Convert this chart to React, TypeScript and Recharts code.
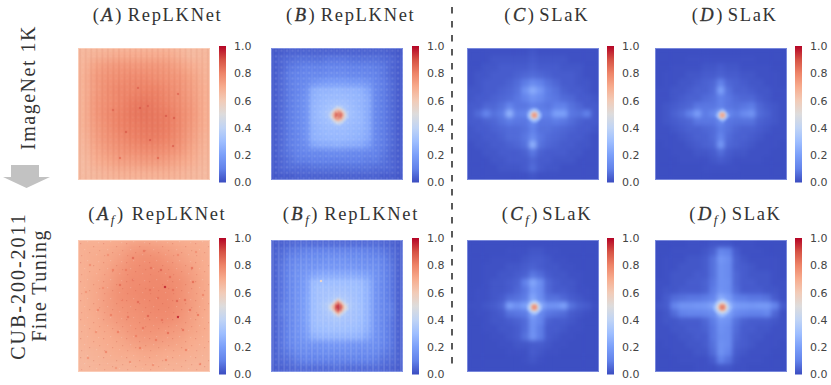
import * as React from "react";
import { Bar, BarChart, Scatter, ScatterChart, XAxis, YAxis } from "recharts";

// values are percent of the colorbar range, rows read top to bottom
const gridA = [
  [66,67,68,69,69,69,69,69,67,65,66],
  [67,72,74,75,75,75,75,74,72,69,67],
  [68,74,76,77,78,78,77,76,75,72,68],
  [68,74,77,79,79,80,80,78,76,73,69],
  [68,75,77,79,81,82,81,79,77,74,69],
  [68,75,78,80,82,83,82,81,78,75,69],
  [68,74,77,80,81,82,82,81,78,74,69],
  [67,73,76,78,80,81,81,80,77,73,68],
  [66,71,74,76,77,78,78,77,75,71,67],
  [65,69,71,73,73,74,74,73,71,69,66],
  [65,66,67,68,68,68,68,68,67,66,65],
];
const gridAf = [
  [69,69,70,71,73,74,73,72,71,70,69],
  [69,70,71,73,76,77,77,75,73,71,70],
  [69,70,72,75,77,78,78,77,75,73,70],
  [69,71,73,76,78,78,79,78,77,74,71],
  [69,71,74,77,78,79,79,79,77,74,71],
  [69,71,74,76,77,78,79,79,77,74,71],
  [69,70,73,75,76,77,78,78,76,73,70],
  [68,70,71,73,75,76,76,75,74,72,70],
  [68,69,70,71,73,74,74,73,72,70,69],
  [67,68,69,70,70,71,71,70,70,69,68],
  [66,67,68,68,68,69,69,68,68,67,67],
];
const gridB = [
  [2,3,4,4,4,4,4,4,4,4,4,4,4,4,4,3,2],
  [3,5,6,7,7,7,7,8,8,8,7,7,7,7,6,5,3],
  [3,5,8,9,10,10,10,11,11,11,10,10,10,9,8,5,3],
  [3,6,9,10,11,12,12,13,13,13,12,12,11,10,8,5,3],
  [3,6,9,11,12,16,18,19,19,19,18,18,16,11,9,6,3],
  [3,6,9,11,14,25,27,27,28,27,27,26,22,12,9,6,3],
  [3,6,9,12,15,26,28,29,29,29,28,27,24,12,9,6,3],
  [3,6,9,12,15,27,29,31,33,32,29,27,24,12,9,6,3],
  [3,6,9,12,15,27,30,34,38,35,30,28,24,12,9,6,3],
  [3,6,9,12,15,27,29,31,34,31,29,28,24,12,9,6,3],
  [3,6,9,12,15,26,28,29,29,29,28,27,24,12,9,6,3],
  [3,6,9,11,15,26,27,28,28,28,27,26,23,12,9,6,3],
  [3,6,9,11,13,22,24,24,25,24,24,23,19,11,9,6,3],
  [3,6,8,10,11,12,12,13,13,13,12,12,11,10,8,5,3],
  [3,5,7,9,9,10,10,10,10,10,10,10,9,9,7,5,3],
  [3,5,6,6,6,7,7,7,7,7,7,7,7,6,6,5,3],
  [2,3,3,4,4,4,4,4,4,4,4,4,4,4,3,3,2],
];
const gridBf = [
  [3,4,5,6,6,6,6,6,6,6,6,6,6,6,5,4,3],
  [4,6,8,9,10,11,11,11,11,11,11,11,10,9,8,6,4],
  [4,7,10,12,13,14,14,15,15,15,14,14,13,12,10,7,4],
  [4,8,11,14,15,16,17,17,17,17,17,16,15,14,11,8,4],
  [4,8,12,15,17,21,23,23,23,23,23,22,20,15,12,8,4],
  [4,8,12,15,19,29,30,30,30,30,30,29,25,16,12,8,4],
  [4,8,12,16,19,30,32,32,32,32,31,30,26,16,12,8,4],
  [4,8,12,16,20,30,32,33,35,34,32,30,26,16,12,8,4],
  [4,9,12,16,20,30,33,37,42,39,33,31,26,16,12,9,4],
  [4,9,12,16,20,30,32,34,37,34,32,31,26,16,12,9,4],
  [4,8,12,16,20,30,32,32,33,32,32,30,26,16,12,8,4],
  [4,8,12,16,19,29,30,31,31,31,30,29,25,16,12,8,4],
  [4,8,12,15,18,25,27,27,27,27,27,26,22,15,12,8,4],
  [4,8,11,14,15,16,16,17,17,17,16,16,15,14,11,8,4],
  [4,7,9,12,13,13,14,14,14,14,14,13,13,12,9,7,4],
  [4,6,7,9,10,10,10,10,10,10,10,10,10,9,7,6,4],
  [3,4,5,6,6,6,6,6,7,6,6,6,6,6,5,4,3],
];
const gridC = [
  [1,1,1,1,1,1,1,1,2,1,1,1,1,1,1,1,1],
  [1,1,1,2,2,2,2,2,3,2,2,2,2,1,1,1,1],
  [1,1,2,2,3,3,3,3,4,3,3,3,2,2,2,1,1],
  [1,2,2,3,3,3,4,5,6,5,4,3,3,3,2,1,1],
  [1,2,3,3,3,4,6,9,13,10,7,5,3,3,2,2,1],
  [2,2,3,3,4,5,7,15,24,17,9,7,4,3,3,2,1],
  [2,3,3,4,5,6,8,11,16,13,9,8,6,5,3,3,2],
  [3,3,5,5,7,11,8,8,10,9,8,10,10,7,5,3,3],
  [3,6,11,7,9,26,10,11,28,11,10,20,20,8,7,10,3],
  [3,3,4,5,7,9,8,8,13,8,8,9,8,6,4,3,3],
  [2,3,3,4,5,6,6,7,10,7,7,6,5,4,3,3,2],
  [2,2,3,3,4,6,6,8,13,8,6,5,4,3,3,2,1],
  [1,2,2,3,3,4,5,7,25,7,5,4,3,3,2,2,1],
  [1,1,2,2,3,3,3,4,8,4,3,3,3,2,2,1,1],
  [1,1,1,2,2,3,3,3,5,3,3,2,2,2,1,1,1],
  [1,1,1,1,2,2,2,3,6,3,2,2,1,1,1,1,1],
  [1,1,1,1,1,1,1,1,2,1,1,1,1,1,1,1,1],
];
const gridD = [
  [0.5,0.5,0.5,0.5,0.5,0.5,0.5,0.5,0.5,0.5,0.5,0.5,0.5,0.5,0.5,0.5,0.5],
  [0.5,0.5,0.5,0.5,1,1,1,1,1,1,1,1,1,0.5,0.5,0.5,0.5],
  [0.5,0.5,1,1,1,1,2,2,3,2,2,1,1,1,1,0.5,0.5],
  [0.5,1,1,1,2,2,3,3,4,3,3,2,2,1,1,1,0.5],
  [0.5,1,1,2,2,3,4,5,10,5,4,3,2,2,1,1,0.5],
  [1,1,2,2,3,4,4,6,20,7,4,4,3,2,2,1,1],
  [1,1,2,3,4,4,6,7,10,8,6,5,5,3,2,1,1],
  [1,2,3,4,5,8,8,8,10,8,7,8,9,5,3,2,1],
  [1,2,4,6,10,19,9,12,24,12,9,13,16,6,4,2,1],
  [1,2,3,4,5,8,8,8,12,8,7,7,7,4,3,2,1],
  [1,1,2,3,4,4,5,6,9,7,5,4,4,3,2,1,1],
  [1,1,1,2,3,4,4,6,11,6,4,4,3,2,1,1,1],
  [0.5,1,1,1,2,3,4,5,17,5,4,3,2,1,1,1,0.5],
  [0.5,0.5,1,1,1,2,2,3,6,3,2,2,1,1,1,0.5,0.5],
  [0.5,0.5,0.5,1,1,1,1,2,3,2,1,1,1,1,0.5,0.5,0.5],
  [0.5,0.5,0.5,0.5,0.5,0.5,1,1,1,1,1,0.5,0.5,0.5,0.5,0.5,0.5],
  [0.5,0.5,0.5,0.5,0.5,0.5,0.5,0.5,0.5,0.5,0.5,0.5,0.5,0.5,0.5,0.5,0.5],
];
const gridCf = [
  [0.5,0.5,0.5,0.5,0.5,0.5,0.5,0.5,0.5,0.5,0.5,0.5,0.5,0.5,0.5,0.5,0.5],
  [0.5,0.5,0.5,0.5,0.5,1,1,1,2,2,1,1,0.5,0.5,0.5,0.5,0.5],
  [0.5,0.5,0.5,1,1,1,1,2,3,3,2,1,1,0.5,0.5,0.5,0.5],
  [0.5,0.5,1,1,1,2,2,3,4,3,2,2,1,1,0.5,0.5,0.5],
  [0.5,0.5,1,1,2,2,3,4,8,6,3,2,2,1,1,0.5,0.5],
  [0.5,0.5,1,2,2,3,4,10,22,14,5,3,2,2,1,0.5,0.5],
  [0.5,1,1,2,2,3,5,8,18,13,5,3,3,2,1,1,0.5],
  [0.5,1,1,2,3,6,7,9,22,14,7,7,5,3,2,1,0.5],
  [1,1,2,3,5,20,15,20,32,24,16,16,20,7,4,3,1],
  [0.5,1,1,2,3,7,8,9,22,13,8,7,6,3,2,1,0.5],
  [0.5,0.5,1,2,2,3,4,6,16,11,4,3,3,2,1,0.5,0.5],
  [0.5,0.5,1,1,2,2,3,6,15,9,3,3,2,1,1,0.5,0.5],
  [0.5,0.5,0.5,1,1,2,3,7,16,9,3,2,1,1,0.5,0.5,0.5],
  [0.5,0.5,0.5,0.5,1,1,2,2,3,3,2,1,1,0.5,0.5,0.5,0.5],
  [0.5,0.5,0.5,0.5,0.5,1,1,1,3,2,1,1,0.5,0.5,0.5,0.5,0.5],
  [0.5,0.5,0.5,0.5,0.5,0.5,0.5,1,2,1,0.5,0.5,0.5,0.5,0.5,0.5,0.5],
  [0.5,0.5,0.5,0.5,0.5,0.5,0.5,0.5,0.5,0.5,0.5,0.5,0.5,0.5,0.5,0.5,0.5],
];
const gridDf = [
  [0.5,0.5,0.5,0.5,1,1,1,2,2,2,1,1,1,0.5,0.5,0.5,0.5],
  [0.5,0.5,1,1,1,1,2,4,12,10,3,1,1,1,0.5,0.5,0.5],
  [0.5,1,1,1,2,2,3,7,17,14,4,2,1,1,1,1,0.5],
  [0.5,1,1,2,2,2,3,7,15,13,4,3,2,1,1,1,0.5],
  [0.5,1,2,2,2,3,3,7,15,13,5,3,2,2,2,1,0.5],
  [1,1,2,2,3,3,4,8,15,14,5,3,3,2,2,1,1],
  [1,2,2,3,3,3,4,9,16,14,6,3,3,3,2,2,1],
  [1,3,6,7,8,8,9,11,24,19,10,9,8,8,7,3,1],
  [2,3,11,16,16,17,18,22,34,27,19,18,17,18,18,11,3],
  [1,2,6,10,11,11,12,14,26,21,13,11,10,10,12,5,1],
  [1,2,2,3,3,3,5,9,17,15,7,4,3,3,3,2,1],
  [1,1,2,2,3,3,4,8,15,13,6,3,3,2,2,1,1],
  [1,1,1,2,2,3,3,8,14,13,5,3,2,2,1,1,1],
  [0.5,1,1,1,2,2,3,7,15,13,4,3,2,1,1,1,0.5],
  [0.5,0.5,1,1,1,2,2,6,15,11,3,2,1,1,1,0.5,0.5],
  [0.5,0.5,0.5,1,1,1,1,3,10,7,2,1,1,1,0.5,0.5,0.5],
  [0.5,0.5,0.5,0.5,0.5,1,1,1,2,2,1,1,0.5,0.5,0.5,0.5,0.5],
];

// hot centre of each map on a finer grid, 0 = nothing drawn
const peakB = [
  [0,0,0,40,44,40,0,0,0],
  [0,0,46,54,58,54,46,0,0],
  [0,46,58,72,74,72,58,46,0],
  [40,54,74,90,76,90,74,54,40],
  [44,58,76,92,78,92,76,58,44],
  [40,54,74,88,76,88,74,54,40],
  [0,46,58,72,74,72,58,46,0],
  [0,0,46,54,58,54,46,0,0],
  [0,0,0,40,44,40,0,0,0],
];
const peakBf = [
  [0,0,0,38,55,38,0,0,0],
  [0,0,44,56,72,56,44,0,0],
  [0,42,58,78,88,78,58,42,0],
  [46,56,74,92,96,92,74,56,46],
  [50,60,78,94,96,94,78,60,50],
  [46,56,74,92,96,92,74,56,46],
  [0,42,58,78,88,78,58,42,0],
  [0,0,44,56,72,56,44,0,0],
  [0,0,0,38,55,38,0,0,0],
];
const peakC = [
  [0,0,0,0,0,0,0,0,0],
  [0,0,0,24,28,24,0,0,0],
  [0,0,30,38,44,38,30,0,0],
  [0,24,38,64,72,64,38,24,0],
  [0,28,44,72,78,72,44,28,0],
  [0,24,38,64,72,64,38,24,0],
  [0,0,30,38,44,38,30,0,0],
  [0,0,0,24,28,24,0,0,0],
  [0,0,0,0,0,0,0,0,0],
];
const peakD = [
  [0,0,0,0,0,0,0,0,0],
  [0,0,0,0,22,0,0,0,0],
  [0,0,0,32,38,32,0,0,0],
  [0,0,32,60,68,60,32,0,0],
  [0,22,38,68,74,68,38,22,0],
  [0,0,32,60,68,60,32,0,0],
  [0,0,0,32,38,32,0,0,0],
  [0,0,0,0,22,0,0,0,0],
  [0,0,0,0,0,0,0,0,0],
];
const peakCf = [
  [0,0,0,0,0,0,0,0,0],
  [0,0,0,30,34,30,0,0,0],
  [0,0,36,44,50,44,36,0,0],
  [0,30,44,68,76,68,44,30,0],
  [0,34,50,76,80,76,50,34,0],
  [0,30,44,68,76,68,44,30,0],
  [0,0,36,44,50,44,36,0,0],
  [0,0,0,30,34,30,0,0,0],
  [0,0,0,0,0,0,0,0,0],
];
const peakDf = [
  [0,0,0,26,30,26,0,0,0],
  [0,0,32,38,42,38,32,0,0],
  [0,32,42,52,58,52,42,32,0],
  [26,38,52,74,80,74,52,38,26],
  [30,42,58,80,84,80,58,42,30],
  [26,38,52,74,80,74,52,38,26],
  [0,32,42,52,58,52,42,32,0],
  [0,0,32,38,42,38,32,0,0],
  [0,0,0,26,30,26,0,0,0],
];

// darker single spots: x, y inside the 132 wide map, value
const spotsA = [[62,60,87],[88,68,87],[96,70,86],[48,84,86],[72,92,87],[95,98,85],[35,62,84],[60,40,85],[100,46,84],[80,110,83],[42,110,82],[70,58,86]];
const spotsAf = [[87,47,94],[100,77,94],[55,18,84],[83,30,85],[99,61,85],[70,76,85],[42,45,83],[115,42,83],[60,62,84],[107,60,83],[73,28,83],[92,37,83],[66,11,82],[114,28,82],[50,77,82],[35,30,80],[120,75,81],[90,93,83],[40,92,80],[78,100,81],[62,108,80],[20,70,78],[28,112,78],[108,110,79],[122,124,79],[48,30,81],[72,50,83],[105,90,82],[12,25,76],[25,48,77],[18,92,76],[10,118,75],[33,75,80],[44,60,81],[55,40,82],[65,88,82],[80,58,83],[95,50,83],[112,70,82],[125,55,78],[30,15,76],[100,15,78],[118,12,76],[88,120,78],[52,122,76],[75,125,76],[38,128,74],[8,52,75],[58,96,80],[84,80,83]];
const spotsBf = [[50,41,55]];

const colorbarTicks = [0, 0.2, 0.4, 0.6, 0.8, 1];
const coolwarm = ["#3b4cc0", "#6282ea", "#7b9ff9", "#9ebeff", "#c0d4f5", "#dddcdc", "#f2cbb7", "#f7ac8e", "#ee8468", "#d65244", "#b40426"];

const SIZE = 132;
const PEAK_CELL = 2;
const PEAK_CENTRE = 67.5;

function toRgb(hex: string) {
  return [1, 3, 5].map((i) => parseInt(hex.slice(i, i + 2), 16));
}

function colorOf(pct: number) {
  const p = Math.min(99.99, Math.max(0, pct)) / 10;
  const i = Math.floor(p);
  const a = toRgb(coolwarm[i]);
  const b = toRgb(coolwarm[i + 1]);
  const c = a.map((v, k) => Math.round(v + (b[k] - v) * (p - i)));
  return `rgb(${c[0]},${c[1]},${c[2]})`;
}

function gridCells(grid: number[][]) {
  const w = SIZE / grid.length;
  return grid.flatMap((row, r) => row.map((v, c) => ({ x: (c + 0.5) * w, y: (r + 0.5) * w, v, w: w + 0.6 })));
}

function peakCells(peak: number[][]) {
  const n = peak.length;
  return peak.flatMap((row, r) =>
    row.flatMap((v, c) =>
      v === 0
        ? []
        : [{ x: PEAK_CENTRE + (c - (n - 1) / 2) * PEAK_CELL, y: PEAK_CENTRE + (r - (n - 1) / 2) * PEAK_CELL, v, w: PEAK_CELL + 0.3 }],
    ),
  );
}

function spotCells(spots: number[][]) {
  return spots.map(([x, y, v]) => ({ x, y, v, w: 2.2 }));
}

function HeatCell(props: any) {
  const { cx, cy, payload } = props;
  const w = payload.w;
  return <rect x={cx - w / 2} y={cy - w / 2} width={w} height={w} fill={colorOf(payload.v)} />;
}

const textures: any = {
  lines: { stripe: "#a83020", stripeOpacity: 0.06, dot: "#ffffff", dotOpacity: 0.04 },
  dots: { stripe: "#ffffff", stripeOpacity: 0.05, dot: "#ffffff", dotOpacity: 0.11 },
  bars: { stripe: "#ffffff", stripeOpacity: 0.12, dot: "#ffffff", dotOpacity: 0.08 },
};

function Heatmap({ id, left, top, grid, peak, spots, back, texture, blur, grain }: any) {
  const tex = texture ? textures[texture] : null;
  return (
    <div
      className={blur > 3 ? "map-soft" : "map-sharp"}
      style={{ position: "absolute", left, top, width: SIZE, height: SIZE, overflow: "hidden", background: colorOf(back) }}
    >
      <ScatterChart width={SIZE} height={SIZE} margin={{ top: 0, right: 0, bottom: 0, left: 0 }}>
        <defs>
          {tex ? (
            <pattern id={`tex-${id}`} x={1.2} width={5.55} height={5.55} patternUnits="userSpaceOnUse">
              <rect x={0} y={0} width={1.8} height={5.55} fill={tex.stripe} fillOpacity={tex.stripeOpacity} />
              <circle cx={3.7} cy={2.8} r={1.3} fill={tex.dot} fillOpacity={tex.dotOpacity} />
            </pattern>
          ) : null}
          {grain ? (
            <pattern id={`tex-${id}`} width={23} height={19} patternUnits="userSpaceOnUse">
              <rect x={2} y={3} width={1.2} height={1.2} fill="#c04030" fillOpacity={0.22} />
              <rect x={9} y={1} width={1.2} height={1.2} fill="#ffffff" fillOpacity={0.16} />
              <rect x={15} y={6} width={1.2} height={1.2} fill="#c04030" fillOpacity={0.2} />
              <rect x={20} y={2} width={1.2} height={1.2} fill="#ffffff" fillOpacity={0.14} />
              <rect x={6} y={9} width={1.2} height={1.2} fill="#ffffff" fillOpacity={0.16} />
              <rect x={11} y={12} width={1.2} height={1.2} fill="#c04030" fillOpacity={0.2} />
              <rect x={18} y={14} width={1.2} height={1.2} fill="#ffffff" fillOpacity={0.14} />
              <rect x={3} y={15} width={1.2} height={1.2} fill="#c04030" fillOpacity={0.16} />
              <rect x={21} y={10} width={1.2} height={1.2} fill="#c04030" fillOpacity={0.18} />
            </pattern>
          ) : null}
        </defs>
        <XAxis type="number" dataKey="x" domain={[0, SIZE]} hide />
        <YAxis type="number" dataKey="y" domain={[0, SIZE]} reversed hide />
        <Scatter className="heat-base" data={gridCells(grid)} shape={HeatCell} isAnimationActive={false} />
        {peak ? <Scatter className="heat-peak" data={peakCells(peak)} shape={HeatCell} isAnimationActive={false} /> : null}
        {spots ? <Scatter className="heat-spot" data={spotCells(spots)} shape={HeatCell} isAnimationActive={false} /> : null}
        {tex || grain ? (
          <Scatter
            className="heat-texture"
            data={[{ x: SIZE / 2, y: SIZE / 2 }]}
            shape={(p: any) => <rect x={p.cx - SIZE / 2} y={p.cy - SIZE / 2} width={SIZE} height={SIZE} fill={`url(#tex-${id})`} />}
            isAnimationActive={false}
          />
        ) : null}
      </ScatterChart>
      <div style={{ position: "absolute", inset: 0, boxShadow: `inset 0 0 0 1px ${back > 50 ? "rgba(255,225,210,0.5)" : "rgba(190,205,250,0.45)"}` }} />
    </div>
  );
}

function Colorbar({ id, left, top }: any) {
  return (
    <div style={{ position: "absolute", left: left, top: top - 10 }}>
      <BarChart width={34} height={156.5} data={[{ name: "range", v: 1 }]} margin={{ top: 10, right: 0, bottom: 10, left: 0 }} barCategoryGap={0}>
        <defs>
          <linearGradient id={`cb-${id}`} x1="0" y1="1" x2="0" y2="0">
            {coolwarm.map((c, i) => (
              <stop key={i} offset={`${i * 10}%`} stopColor={c} />
            ))}
          </linearGradient>
        </defs>
        <XAxis dataKey="name" hide />
        <YAxis
          orientation="right"
          type="number"
          domain={[0, 1]}
          ticks={colorbarTicks}
          width={27}
          interval={0}
          tickLine={false}
          axisLine={false}
          tickMargin={2}
          tickFormatter={(t: number) => t.toFixed(1)}
          tick={{ fontSize: 11, fill: "#444444", fontFamily: "DejaVu Sans" }}
        />
        <Bar dataKey="v" fill={`url(#cb-${id})`} isAnimationActive={false} />
      </BarChart>
    </div>
  );
}

const panels = [
  { id: "a", left: 78, top: 48, grid: gridA, spots: spotsA, back: 66, texture: "lines", blur: 4.5, barLeft: 218.5 },
  { id: "b", left: 271, top: 48, grid: gridB, peak: peakB, back: 2, texture: "dots", blur: 2.2, barLeft: 411.5 },
  { id: "c", left: 467, top: 48, grid: gridC, peak: peakC, back: 1, blur: 2.2, barLeft: 607 },
  { id: "d", left: 655, top: 48, grid: gridD, peak: peakD, back: 0.5, blur: 2.2, barLeft: 795 },
  { id: "af", left: 78, top: 240, grid: gridAf, spots: spotsAf, back: 67, grain: true, blur: 4.5, barLeft: 218.5 },
  { id: "bf", left: 271, top: 240, grid: gridBf, peak: peakBf, spots: spotsBf, back: 3, texture: "bars", blur: 2.2, barLeft: 411.5 },
  { id: "cf", left: 467, top: 240, grid: gridCf, peak: peakCf, back: 0.5, blur: 2.2, barLeft: 607 },
  { id: "df", left: 655, top: 240, grid: gridDf, peak: peakDf, back: 0.5, blur: 2.2, barLeft: 795 },
];

const titles = [
  { letter: "A", name: "RepLKNet", mathX: 92.7, nameX: 127.7, y: 21 },
  { letter: "B", name: "RepLKNet", mathX: 286, nameX: 320.7, y: 21 },
  { letter: "C", name: "SLaK", mathX: 504.3, nameX: 539.3, y: 21 },
  { letter: "D", name: "SLaK", mathX: 691.7, nameX: 727.7, y: 21 },
  { letter: "A", sub: "f", name: "RepLKNet", mathX: 88.3, nameX: 131.7, y: 219.5 },
  { letter: "B", sub: "f", name: "RepLKNet", mathX: 282.7, nameX: 324.3, y: 219.5 },
  { letter: "C", sub: "f", name: "SLaK", mathX: 501.7, nameX: 542.3, y: 219.5 },
  { letter: "D", sub: "f", name: "SLaK", mathX: 689.3, nameX: 731.7, y: 219.5 },
];

const serif = "Liberation Serif";

function Labels() {
  return (
    <svg width={831} height={385} style={{ position: "absolute", left: 0, top: 0 }}>
      {titles.map((t, i) => (
        <g key={i} fontFamily={serif} fill="#333333">
          <text x={t.mathX} y={t.y} fontSize={18.5} letterSpacing={2.5}>
            {"("}
            <tspan fontStyle="italic" stroke="#333333" strokeWidth={0.35}>{t.letter}</tspan>
            {t.sub ? <tspan fontStyle="italic" fontSize={13} dy={4}>{t.sub}</tspan> : null}
            <tspan dy={t.sub ? -4 : 0}>{")"}</tspan>
          </text>
          <text x={t.nameX} y={t.y} fontSize={18.5} letterSpacing={1.7}>{t.name}</text>
        </g>
      ))}
      <g fontFamily={serif} fill="#333333" fontSize={20} textAnchor="middle">
        <text x={35} y={87.5} letterSpacing={1.5} transform="rotate(-90 35 87.5)">ImageNet 1K</text>
        <text x={25} y={286} letterSpacing={2} transform="rotate(-90 25 286)">CUB-200-2011</text>
        <text x={46} y={285.5} letterSpacing={1.4} transform="rotate(-90 46 285.5)">Fine Tuning</text>
      </g>
      <polygon points="11,165 39,165 39,177 50,177 26.5,188 3,177 11,177" fill="#c2c2c2" />
      <line x1={452} y1={7} x2={452} y2={365} stroke="#595959" strokeWidth={2} strokeDasharray="6.5 7.5" />
    </svg>
  );
}

// recharts keeps each Scatter in its own layer, so the softening of the low-res grids goes there
const mapCss = `
.map-soft .heat-base { filter: blur(4.5px); }
.map-sharp .heat-base { filter: blur(2.2px); }
.heat-peak { filter: blur(0.9px); }
.heat-spot { filter: blur(0.6px); }
.heat-texture { filter: blur(0.3px); }
`;

export default function App() {
  return (
    <div style={{ position: "absolute", left: 0, top: 0, width: 831, height: 385, background: "#ffffff", overflow: "hidden" }}>
      <style>{mapCss}</style>
      <Labels />
      {panels.map((p) => (
        <React.Fragment key={p.id}>
          <Heatmap {...p} />
          <Colorbar id={p.id} left={p.barLeft} top={p.top - 2.3} />
        </React.Fragment>
      ))}
    </div>
  );
}
